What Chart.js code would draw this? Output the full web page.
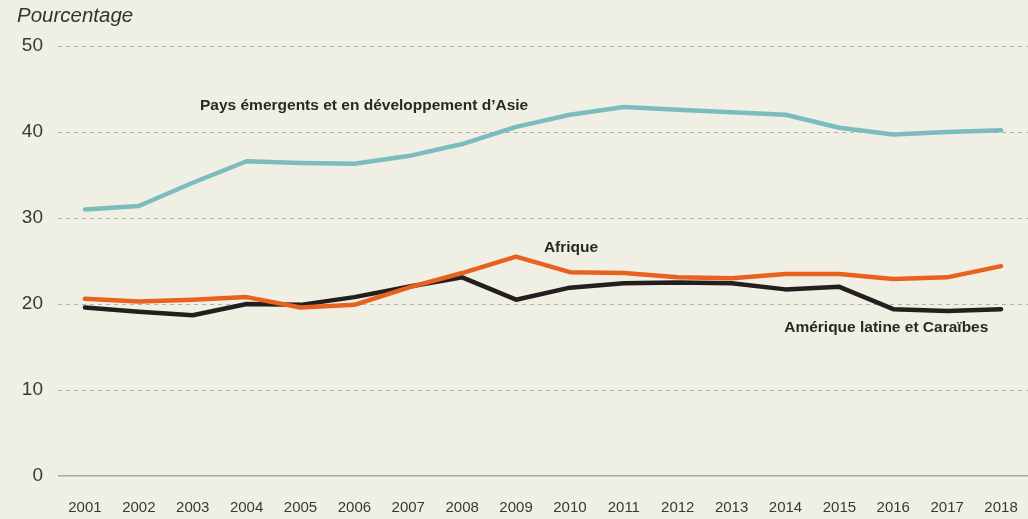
<!DOCTYPE html>
<html>
<head>
<meta charset="utf-8">
<script src="https://cdn.jsdelivr.net/npm/chart.js@4"></script>
<style>
html,body{margin:0;padding:0;background:#eff0e3;}
#wrap{width:1028px;height:519px;position:relative;}
</style>
</head>
<body>
<div id="wrap"><canvas id="c" width="1028" height="519"></canvas></div>
<script>
const years = ["2001","2002","2003","2004","2005","2006","2007","2008","2009","2010","2011","2012","2013","2014","2015","2016","2017","2018"];
const asia = [31.0,31.4,34.1,36.6,36.4,36.3,37.2,38.6,40.6,42.0,42.9,42.6,42.3,42.0,40.5,39.7,40.0,40.2];
const africa = [20.6,20.3,20.5,20.8,19.6,19.9,21.9,23.6,25.5,23.7,23.6,23.1,23.0,23.5,23.5,22.9,23.1,24.4];
const latam = [19.6,19.1,18.7,20.0,19.9,20.8,22.0,23.1,20.5,21.9,22.4,22.5,22.4,21.7,22.0,19.4,19.2,19.4];
const yTicks = [0,10,20,30,40,50];
const seriesLabels = ["Pays émergents et en développement d’Asie","Afrique","Amérique latine et Caraïbes"];
// label anchors in data units: [category index (fractional), value]
const labelAnchors = [[5.18,43.0],[9.02,26.5],[14.87,17.2]];
const axisTitle = "Pourcentage";

const FONT = "'Liberation Sans', Arial, Helvetica, sans-serif";

const annot = {
  id:'annot',
  afterDraw(chart){
    const {ctx, scales:{x,y}} = chart;
    const xAt = (f)=>{ const i=Math.floor(f); const a=x.getPixelForValue(i), b=x.getPixelForValue(i+1); return a+(b-a)*(f-i); };
    ctx.save();
    ctx.fillStyle = '#2a2727';
    ctx.font = "bold 15.5px " + FONT;
    ctx.textAlign = 'center';
    ctx.textBaseline = 'middle';
    seriesLabels.forEach((t,k)=>{
      ctx.fillText(t, xAt(labelAnchors[k][0]), y.getPixelForValue(labelAnchors[k][1]));
    });
    ctx.font = "italic 20.5px " + FONT;
    ctx.fillStyle = '#333';
    ctx.textAlign = 'left';
    ctx.fillText(axisTitle, 17, 16);
    ctx.restore();
  }
};

new Chart(document.getElementById('c'), {
  type:'line',
  data:{
    labels: years,
    datasets:[
      {data: asia, borderColor:'#7dbcbe', borderWidth:4.5, pointRadius:0, tension:0, borderJoinStyle:'round', borderCapStyle:'round'},
      {data: africa, borderColor:'#e8611f', borderWidth:4.5, pointRadius:0, tension:0, borderJoinStyle:'round', borderCapStyle:'round'},
      {data: latam, borderColor:'#231f20', borderWidth:4.5, pointRadius:0, tension:0, borderJoinStyle:'round', borderCapStyle:'round'}
    ]
  },
  options:{
    responsive:false,
    animation:false,
    devicePixelRatio:1,
    layout:{padding:{top:46,right:0,left:0,bottom:0}},
    plugins:{legend:{display:false}, tooltip:{enabled:false}, title:{display:false}},
    scales:{
      x:{
        type:'category',
        offset:true,
        grid:{display:false, drawTicks:false},
        border:{display:false},
        ticks:{color:'#383838', font:{family:FONT, size:15}, padding:23, maxRotation:0, autoSkip:false},
        afterFit(s){ s.height = 43; s.paddingLeft = 0; s.paddingRight = 0; }
      },
      y:{
        min:0, max:50,
        afterBuildTicks(s){ s.ticks = yTicks.map(v=>({value:v})); },
        grid:{
          color:(c)=> c.tick && c.tick.value===0 ? '#a8a8a8' : '#b0b0b0',
          lineWidth:(c)=> c.tick && c.tick.value===0 ? 1.5 : 1,
          drawTicks:false
        },
        border:{display:false, dash:(c)=> c.tick && c.tick.value===0 ? [] : [4,4]},
        ticks:{color:'#383838', font:{family:FONT, size:19}, padding:15},
        afterFit(s){ s.width = 58; s.paddingTop = 0; s.paddingBottom = 0; }
      }
    }
  },
  plugins:[annot]
});
</script>
</body>
</html>
